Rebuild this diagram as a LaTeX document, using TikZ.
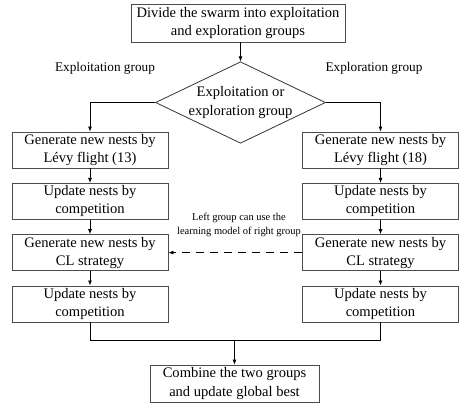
\documentclass[tikz,border=0pt]{standalone}
\usepackage{fontspec}
\setmainfont{Liberation Serif}
\usetikzlibrary{arrows.meta, positioning, shapes.geometric}
\tikzset{
  procbox/.style={rectangle, draw=black!70, line width=0.8pt, inner sep=0pt,
                  minimum width=156bp, minimum height=36bp, align=center,
                  font=\fontsize{14.6}{18.2}\selectfont},
  decision/.style={diamond, draw=black!80, line width=0.8pt, inner sep=0pt,
                   minimum width=170bp, minimum height=81.5bp},
  grplbl/.style={font=\fontsize{13.3}{16}\selectfont},
  notelbl/.style={font=\fontsize{10.5}{13.5}\selectfont, align=center},
  arr/.style={-{Latex[length=5bp, width=4bp]}, line width=0.8pt, #1},
  arr/.default=black,
}
\begin{document}
\begin{tikzpicture}[x=1bp, y=-1bp]
  \useasboundingbox (0,0) rectangle (474,408);
  % top and decision
  \node[procbox, minimum width=214bp, minimum height=38bp] (divide) at (238,23)
    {Divide the swarm into exploitation\\and exploration groups};
  \node[decision] (decide) at (240.5,102.5) {};
  \node[font=\fontsize{14.6}{18.2}\selectfont, align=center] (decidetxt) at (decide)
    {Exploitation or\\exploration group};
  \node[grplbl] (exploit) at (105,68) {Exploitation group};
  \node[grplbl] (explore) at (374,68) {Exploration group};
  % left column
  \node[procbox] (lgen) at (90,150) {Generate new nests by\\L\'evy flight (13)};
  \node[procbox, below=14.5bp of lgen] (lupd) {Update nests by\\competition};
  \node[procbox, below=14.5bp of lupd] (lcl) {Generate new nests by\\CL strategy};
  \node[procbox, below=14.5bp of lcl] (lcomp) {Update nests by\\competition};
  % right column
  \node[procbox] (rgen) at (380.5,150) {Generate new nests by\\L\'evy flight (18)};
  \node[procbox, below=14.5bp of rgen] (rupd) {Update nests by\\competition};
  \node[procbox, below=14.5bp of rupd] (rcl) {Generate new nests by\\CL strategy};
  \node[procbox, below=14.5bp of rcl] (rcomp) {Update nests by\\competition};
  % bottom
  \node[procbox, minimum width=169bp, minimum height=37bp] (combine) at (234.5,383.5)
    {Combine the two groups\\and update global best};
  \node[notelbl] (note) at (239,225) {Left group can use the\\learning model of right group};
  \coordinate (merge) at (234.5,340);
  % connectors
  \draw[arr] (decide.north |- divide.south) -- (decide.north);
  \draw[arr] (decide.west) -| (lgen.north);
  \draw[arr] (decide.east) -| (rgen.north);
  \draw[arr] (lgen) -- (lupd);
  \draw[arr] (lupd) -- (lcl);
  \draw[arr] (lcl) -- (lcomp);
  \draw[arr] (rgen) -- (rupd);
  \draw[arr] (rupd) -- (rcl);
  \draw[arr] (rcl) -- (rcomp);
  \draw[arr, dash pattern=on 8bp off 6bp] (rcl.west) -- (lcl.east);
  \draw[line width=0.8pt] (lcomp.south) |- (merge) -| (rcomp.south);
  \draw[arr] (merge) -- (combine);
\end{tikzpicture}
\end{document}
